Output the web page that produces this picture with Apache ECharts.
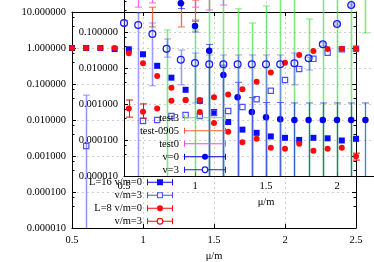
<!DOCTYPE html>
<html><head><meta charset="utf-8">
<script src="https://cdn.jsdelivr.net/npm/echarts@6/dist/echarts.min.js"></script>
<style>html,body{margin:0;padding:0;background:#fff}#c{width:374px;height:262px}</style>
</head><body><div id="c"></div>
<script>
// ===== main plot data (x = mu/m) =====
const mainX   = [0.5,0.6,0.7,0.8,0.9,1.0,1.1,1.2,1.3,1.4,1.5,1.6,1.7,1.8,1.9,2.0,2.1,2.2,2.3,2.4,2.5];
const L16v0   = [1.0,1.0,1.0,0.94,0.92,0.67,0.32,0.15,0.069,0.034,0.0167,0.0088,0.0054,0.0044,0.0035,0.0032,0.0028,0.0032,0.0031,0.0027,0.0030];
const L16v3   = [null,0.0019,null,null,null,0.0094,0.0100,0.0129,0.0138,0.0129,0.0156,0.0178,0.023,0.038,0.065,0.129,0.26,0.50,0.74,0.92,0.96];
const L16v3Lo = [null,1e-9,null,null,null,null,null,null,null,null,null,null,null,null,null,null,null,null,null,null,null];
const L16v3Hi = [null,0.049,null,null,null,null,null,null,null,null,null,null,null,null,null,null,null,null,null,null,null];
const L8v0    = [1.0,1.0,1.0,1.0,0.71,0.375,0.167,0.079,0.036,0.0167,0.0083,0.0047,0.0024,0.0030,0.0017,0.0016,0.0022,0.0014,0.0016,0.0017,0.00098];
const L8v0Lo  = [null,null,null,null,null,null,null,null,null,null,null,null,null,null,null,null,null,null,null,null,0.00077];
const L8v0Hi  = [null,null,null,null,null,null,null,null,null,null,null,null,null,null,null,null,null,null,null,null,0.0012];
const L8v3    = [null,null,null,null,0.021,0.017,0.021,0.034,0.036,0.036,0.043,0.051,0.071,0.116,0.21,0.39,0.64,0.82,0.94,0.96,0.96];
const L8v3Lo  = [null,null,null,null,0.012,0.0113,null,null,null,null,null,null,null,null,null,null,null,null,null,null,null];
const L8v3Hi  = [null,null,null,null,0.036,0.028,null,null,null,null,null,null,null,null,null,null,null,null,null,null,null];

// ===== inset plot data =====
const insetX = [0.5,0.6,0.7,0.8,0.9,1.0,1.1,1.2,1.3,1.4,1.5,1.6,1.7,1.8,1.9,2.0,2.1,2.2];
const v0   = [1.0,1.0,1.0,1.0,0.63,0.147,0.030,0.0064,0.00155,0.0006,0.00043,0.00038,0.00036,0.00036,0.00036,0.00036,0.00036,0.00036];
const v0Lo = [null,null,null,null,0.45,0.10,1e-9,1e-9,1e-9,1e-9,1e-9,1e-9,1e-9,1e-9,1e-9,1e-9,1e-9,1e-9];
const v0Hi = [null,null,null,null,0.80,0.20,0.045,0.012,0.0040,0.0015,0.0011,0.0011,0.00107,0.00107,0.00107,0.00107,0.00107,0.00107];
const v3   = [0.178,0.156,0.088,0.034,0.017,0.0138,0.0127,0.0127,0.0127,0.0127,0.0127,0.0127,0.0135,0.0186,0.0455,0.167,0.56,1.9];
const v3Lo = [0.15,1e-9,0.0032,0.020,0.0034,0.00107,1e-9,1e-9,1e-9,1e-9,1e-9,1e-9,0.0034,0.0088,0.041,0.155,0.52,1.7];
const v3Hi = [0.21,0.34,0.178,0.064,0.0316,0.0261,0.023,0.023,0.023,0.023,0.023,0.023,0.026,0.020,0.050,0.18,0.60,2.1];
const t3X  = [0.8,1.0,1.1,1.2,1.3,1.4,1.5,1.6,1.7,1.8,1.9,2.0,2.1,2.2];
const t3   = [0.06,0.06,1.5,1.5,0.22,0.09,0.27,1.5,1.5,0.12,1.5,1.5,1.5,2.5];
const t3Lo = [1e-9,1e-9,1e-9,1e-9,1e-9,1e-9,1e-9,1e-9,1e-9,1e-9,1e-9,1e-9,1e-9,0.094];
const t3Hi = [0.114,0.114,5,5,0.44,0.178,0.53,5,5,0.23,5,5,5,5];
const t09X  = [0.7,0.9,1.0];
const t09   = [0.26,0.30,0.40];
const t09Lo = [0.138,0.138,0.215];
const t09Hi = [0.49,0.64,0.77];
const t0X  = [0.6,0.7,1.0,1.1,1.2];
const t0   = [0.8,0.9,0.8,0.75,0.85];
const t0Lo = [0.49,0.64,0.49,0.41,0.56];
const t0Hi = [1.5,1.5,1.5,1.5,1.5];

const xTicks = [0.5, 2.5, 0.5];          // min, max, interval
const mainY = [1e-5, 10];
const insetY = [1e-5, 1];

const FONT = 'Liberation Serif';
const FS = 10.5;

function num(v){ return v == null ? NaN : v; }

function errSeries(name, xs, ys, los, his, axis, mk, color, barColor, bw, size){
  const data = xs.map((x,i)=>[x, num(ys[i]), num(los[i]), num(his[i])]);
  return {
    type:'custom', name, xAxisIndex: axis, yAxisIndex: axis,
    itemStyle:{color}, data, z: 2,
    renderItem(params, api){
      const cs = params.coordSys;
      const top = cs.y, bot = cs.y + cs.height;
      const x = api.value(0), y = api.value(1), lo = api.value(2), hi = api.value(3);
      const ch = [];
      if (!isNaN(lo) && !isNaN(hi)) {
        const pl = api.coord([x, lo]), ph = api.coord([x, hi]);
        const px = Math.round(pl[0]) + 0.5;
        const y1 = Math.max(top, Math.min(bot, ph[1]));
        const y2 = Math.max(top, Math.min(bot, pl[1]));
        if (y2 > y1) ch.push({type:'line', shape:{x1:px,y1:y1,x2:px,y2:y2}, style:{stroke:barColor, lineWidth:bw}});
        [ph[1], pl[1]].forEach(cy=>{
          if (cy >= top && cy <= bot) ch.push({type:'line', shape:{x1:px-3.5,y1:cy,x2:px+3.5,y2:cy}, style:{stroke:barColor, lineWidth:1}});
        });
      }
      if (mk !== 'none' && !isNaN(y)) {
        const p = api.coord([x, y]); const s = size/2;
        if (mk === 'sq') ch.push({type:'rect', shape:{x:p[0]-s,y:p[1]-s,width:size,height:size}, style:{fill:color}});
        if (mk === 'osq') ch.push({type:'rect', shape:{x:p[0]-s+0.6,y:p[1]-s+0.6,width:size-1.2,height:size-1.2}, style:{fill:'none', stroke:color, lineWidth:1.2}});
        if (mk === 'ci') ch.push({type:'circle', shape:{cx:p[0],cy:p[1],r:s}, style:{fill:color}});
        if (mk === 'oci') ch.push({type:'circle', shape:{cx:p[0],cy:p[1],r:s-0.6}, style:{fill:'none', stroke:color, lineWidth:1.3}});
      }
      return {type:'group', children:ch};
    }
  };
}

// legend sample icons: error bar line with caps and the point marker
function legIcon(W, mk){
  const c = W/2;
  const rect = (x0,y0,x1,y1)=>`M${x0},${y0} L${x1},${y0} L${x1},${y1} L${x0},${y1} Z `;
  let p = rect(0,0.5,1,6.5) + rect(W-1,0.5,W,6.5);
  const circ = (r, cw)=> cw
    ? `M${c+r},3.5 A${r},${r} 0 1,1 ${c-r},3.5 A${r},${r} 0 1,1 ${c+r},3.5 Z `
    : `M${c+r},3.5 A${r},${r} 0 1,0 ${c-r},3.5 A${r},${r} 0 1,0 ${c+r},3.5 Z `;
  if (mk === 'sq') { p += rect(0,3,W,4) + rect(c-3,0.5,c+3,6.5); }
  else if (mk === 'osq') { p += rect(0,3,c-3,4) + rect(c+3,3,W,4) + rect(c-3,0.5,c+3,6.5) + `M${c-1.9},1.6 L${c-1.9},5.4 L${c+1.9},5.4 L${c+1.9},1.6 Z `; }
  else if (mk === 'ci') { p += rect(0,3,W,4) + circ(3,true); }
  else if (mk === 'oci') { p += rect(0,3,c-3.3,4) + rect(c+3.3,3,W,4) + circ(3.4,true) + circ(2.2,false); }
  else { p += rect(0,3,W,4); }
  return 'path://' + p;
}

const BLUE = '#0a0aff', RED = '#ff0a0a', OSQ = '#4f4fff';
const series = [
  errSeries('L=16 v/m=0', mainX, L16v0, mainX.map(()=>null), mainX.map(()=>null), 0, 'sq', BLUE, BLUE, 1, 6),
  errSeries('L=16 v/m=3', mainX, L16v3, L16v3Lo, L16v3Hi, 0, 'osq', OSQ, 'rgba(110,110,255,0.75)', 1.5, 6.5),
  errSeries('L=8 v/m=0', mainX, L8v0, L8v0Lo, L8v0Hi, 0, 'ci', RED, RED, 1, 6),
  errSeries('L=8 v/m=3', mainX, L8v3, L8v3Lo, L8v3Hi, 0, 'ci', RED, RED, 1, 6),
  errSeries('test3', t3X, t3, t3Lo, t3Hi, 2, 'none', '#5fe85f', 'rgba(70,225,70,0.7)', 1.6, 0),
  errSeries('test-0905', t09X, t09, t09Lo, t09Hi, 2, 'none', '#f0603c', 'rgba(240,90,55,0.9)', 1.3, 0),
  errSeries('test0', t0X, t0, t0Lo, t0Hi, 2, 'none', '#ff44ff', 'rgba(255,70,255,0.85)', 1.3, 0),
  errSeries('v=0', insetX, v0, v0Lo, v0Hi, 2, 'ci', '#0000ee', 'rgba(20,50,220,0.7)', 1.3, 6.5),
  errSeries('v=3', insetX, v3, v3Lo, v3Hi, 2, 'oci', '#1a1aff', 'rgba(90,90,255,0.6)', 1.6, 8)
];

const tickIn = (len)=>({show:true, inside:true, length:len, lineStyle:{color:'#000', width:1}});
const dash = {show:true, lineStyle:{color:'#cfcfcf', type:[2,3], width:1}};
const lbl = {fontFamily:FONT, fontSize:FS, color:'#000'};
const fmt6 = v => Number(v).toFixed(6);

const option = {
  animation:false,
  backgroundColor:'#fff',
  textStyle:{fontFamily:FONT},
  grid:[
    {left:72, top:12, width:284, height:216, outerBoundsMode:'none', containLabel:false},
    {left:124, top:-4, width:284, height:180, outerBoundsMode:'none', containLabel:false}
  ],
  xAxis:[
    {gridIndex:0, type:'value', min:xTicks[0], max:xTicks[1], interval:xTicks[2], position:'bottom',
     axisLine:{show:true, lineStyle:{color:'#000', width:1}}, axisTick:tickIn(4), splitLine:dash,
     axisLabel:Object.assign({margin:7, formatter: v=>String(v)}, lbl),
     name:'μ/m', nameLocation:'middle', nameGap:20, nameTextStyle:lbl},
    {gridIndex:0, type:'value', min:xTicks[0], max:xTicks[1], interval:xTicks[2], position:'top',
     axisLine:{show:true, lineStyle:{color:'#000', width:1}}, axisTick:tickIn(4), splitLine:{show:false},
     axisLabel:{show:false}},
    {gridIndex:1, type:'value', min:xTicks[0], max:xTicks[1], interval:xTicks[2], position:'bottom',
     axisLine:{show:true, lineStyle:{color:'#000', width:1}}, axisTick:tickIn(4), splitLine:dash,
     axisLabel:Object.assign({margin:5, formatter: v=>String(v)}, lbl),
     name:'μ/m', nameLocation:'middle', nameGap:21, nameTextStyle:lbl}
  ],
  yAxis:[
    {gridIndex:0, type:'log', logBase:10, min:mainY[0], max:mainY[1], splitNumber:6, position:'left',
     axisLine:{show:true, lineStyle:{color:'#000', width:1}}, axisTick:tickIn(4),
     minorTick:{show:true, splitNumber:3, length:2.5, lineStyle:{color:'#000'}}, splitLine:dash,
     axisLabel:Object.assign({margin:6, formatter:fmt6, showMinLabel:true, showMaxLabel:true}, lbl)},
    {gridIndex:0, type:'log', logBase:10, min:mainY[0], max:mainY[1], splitNumber:6, position:'right',
     axisLine:{show:true, lineStyle:{color:'#000', width:1}}, axisTick:tickIn(4),
     minorTick:{show:true, splitNumber:3, length:2.5, lineStyle:{color:'#000'}}, splitLine:{show:false},
     axisLabel:{show:false}},
    {gridIndex:1, type:'log', logBase:10, min:insetY[0], max:insetY[1], splitNumber:5, position:'left',
     axisLine:{show:true, lineStyle:{color:'#000', width:1}}, axisTick:tickIn(4),
     minorTick:{show:true, splitNumber:3, length:2.5, lineStyle:{color:'#000'}}, splitLine:dash,
     axisLabel:Object.assign({margin:6, formatter: v => (v >= 0.5 ? '' : fmt6(v)), showMinLabel:true}, lbl)}
  ],
  legend:[
    {orient:'vertical', align:'right', right:374-173, top:176.75, padding:0, itemGap:2,
     itemWidth:26, itemHeight:7, textStyle:lbl, selectedMode:false,
     itemStyle:{borderWidth:0},
     formatter: n => (n === 'L=16 v/m=3' || n === 'L=8 v/m=3') ? 'v/m=3' : n,
     data:[
       {name:'L=16 v/m=0', icon:legIcon(26,'sq')},
       {name:'L=16 v/m=3', icon:legIcon(26,'osq')},
       {name:'L=8 v/m=0', icon:legIcon(26,'ci')},
       {name:'L=8 v/m=3', icon:legIcon(26,'oci')}
     ]},
    {orient:'vertical', align:'right', right:374-226, top:112.25, padding:0, itemGap:2,
     itemWidth:42, itemHeight:7, textStyle:lbl, selectedMode:false,
     itemStyle:{borderWidth:0},
     data:[
       {name:'test3', icon:legIcon(42,'line')},
       {name:'test-0905', icon:legIcon(42,'line')},
       {name:'test0', icon:legIcon(42,'line')},
       {name:'v=0', icon:legIcon(42,'ci')},
       {name:'v=3', icon:legIcon(42,'oci')}
     ]}
  ],
  series
};
const chart = echarts.init(document.getElementById('c'));
chart.setOption(option);
</script></body></html>
